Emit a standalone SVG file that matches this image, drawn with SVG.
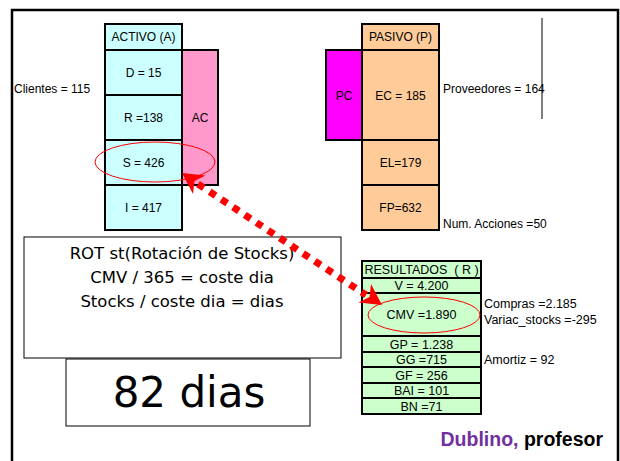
<svg xmlns="http://www.w3.org/2000/svg" width="620" height="461" viewBox="0 0 620 461">
<style>
.t{font-family:"Liberation Sans",Arial,sans-serif;font-size:12px;fill:#000}
.c{text-anchor:middle}
.r{font-size:12.5px}
.cell{stroke:#000;stroke-width:2}
.cy{fill:#CCFFFF}
.pe{fill:#FFCC99}
.gr{fill:#CCFFCC}
.cm{font-family:"DejaVu Sans",sans-serif;fill:#000;text-anchor:middle}
</style>
<rect x="0" y="0" width="620" height="461" fill="#fff"/>
<path d="M12 470 V10 H618 V470" fill="none" stroke="#000" stroke-width="2.5"/>

<g id="activo">
<rect class="cell cy" x="105" y="24" width="77" height="26"/>
<text class="t c" x="143.5" y="41" font-size="11">ACTIVO (A)</text>
<rect class="cell" x="182" y="50" width="36" height="135" fill="#FF99CC"/>
<text class="t c" x="200" y="122">AC</text>
<rect class="cell cy" x="105" y="50" width="77" height="45"/>
<text class="t c" x="143.5" y="77">D = 15</text>
<rect class="cell cy" x="105" y="95" width="77" height="45"/>
<text class="t c" x="143.5" y="122">R =138</text>
<rect class="cell cy" x="105" y="140" width="77" height="45"/>
<text class="t c" x="143.5" y="167">S = 426</text>
<rect class="cell cy" x="105" y="185" width="77" height="45"/>
<text class="t c" x="143.5" y="212">I = 417</text>
<ellipse cx="155" cy="162" rx="60" ry="20" fill="none" stroke="#FF0000" stroke-width="1"/>
</g>
<text class="t" x="14" y="93">Clientes = 115</text>

<g id="pasivo">
<rect class="cell pe" x="362" y="24" width="77" height="26"/>
<text class="t c" x="400.5" y="41" font-size="11">PASIVO (P)</text>
<rect class="cell" x="326" y="50" width="36" height="90" fill="#FF00FF"/>
<text class="t c" x="344" y="100">PC</text>
<rect class="cell pe" x="362" y="50" width="77" height="90"/>
<text class="t c" x="400.5" y="100">EC = 185</text>
<rect class="cell pe" x="362" y="140" width="77" height="45"/>
<text class="t c" x="400.5" y="167">EL=179</text>
<rect class="cell pe" x="362" y="185" width="77" height="45"/>
<text class="t c" x="400.5" y="212">FP=632</text>
</g>
<text class="t" x="443" y="93">Proveedores = 164</text>
<line x1="542" y1="18" x2="542" y2="119" stroke="#000" stroke-width="1"/>
<text class="t" x="443" y="228">Num. Acciones =50</text>

<g id="rot">
<rect x="24" y="237" width="317" height="121" fill="#fff" stroke="#000" stroke-width="1"/>
<text class="cm" x="182" y="259" font-size="16.5">ROT st(Rotación de Stocks)</text>
<text class="cm" x="182" y="283" font-size="16.5">CMV / 365 = coste dia</text>
<text class="cm" x="182" y="307" font-size="16.5">Stocks / coste dia = dias</text>
</g>
<g id="dias">
<rect x="66" y="359" width="244" height="67" fill="#fff" stroke="#000" stroke-width="1"/>
<text class="cm" x="189" y="407" font-size="42">82 dias</text>
</g>

<g id="resultados">
<rect class="cell gr" x="362" y="261" width="119" height="17"/>
<text class="t c r" x="421.5" y="274" xml:space="preserve">RESULTADOS  ( R )</text>
<rect class="cell gr" x="362" y="278" width="119" height="15"/>
<text class="t c r" x="421.5" y="290">V = 4.200</text>
<rect class="cell gr" x="362" y="293" width="119" height="43"/>
<text class="t c r" x="421.5" y="319">CMV =1.890</text>
<rect class="cell gr" x="362" y="336" width="119" height="16"/>
<text class="t c r" x="421.5" y="348.5">GP = 1.238</text>
<rect class="cell gr" x="362" y="352" width="119" height="15"/>
<text class="t c r" x="421.5" y="364">GG =715</text>
<rect class="cell gr" x="362" y="367" width="119" height="16"/>
<text class="t c r" x="421.5" y="379.5">GF = 256</text>
<rect class="cell gr" x="362" y="383" width="119" height="15"/>
<text class="t c r" x="421.5" y="395">BAI = 101</text>
<rect class="cell gr" x="362" y="398" width="119" height="16"/>
<text class="t c r" x="421.5" y="410.5">BN =71</text>
<ellipse cx="424" cy="315" rx="56" ry="18" fill="none" stroke="#FF0000" stroke-width="1"/>
</g>
<text class="t r" x="484" y="308">Compras =2.185</text>
<text class="t r" x="484" y="324">Variac_stocks =-295</text>
<text class="t r" x="484" y="364">Amortiz = 92</text>

<g id="connectors">
<line x1="198" y1="184" x2="366" y2="295" stroke="#FF0000" stroke-width="7" stroke-dasharray="7 7"/>
<polygon points="182,173 205.5,175.5 194.5,181 193,194" fill="#FF0000"/>
<polygon points="382,305 371,284 369.5,297 358.5,302.5" fill="#FF0000"/>
</g>

<text x="603" y="446" text-anchor="end" font-family="Liberation Sans,Arial,sans-serif" font-size="19.5" font-weight="bold"><tspan fill="#7030A0">Dublino,</tspan><tspan fill="#000"> profesor</tspan></text>
</svg>
